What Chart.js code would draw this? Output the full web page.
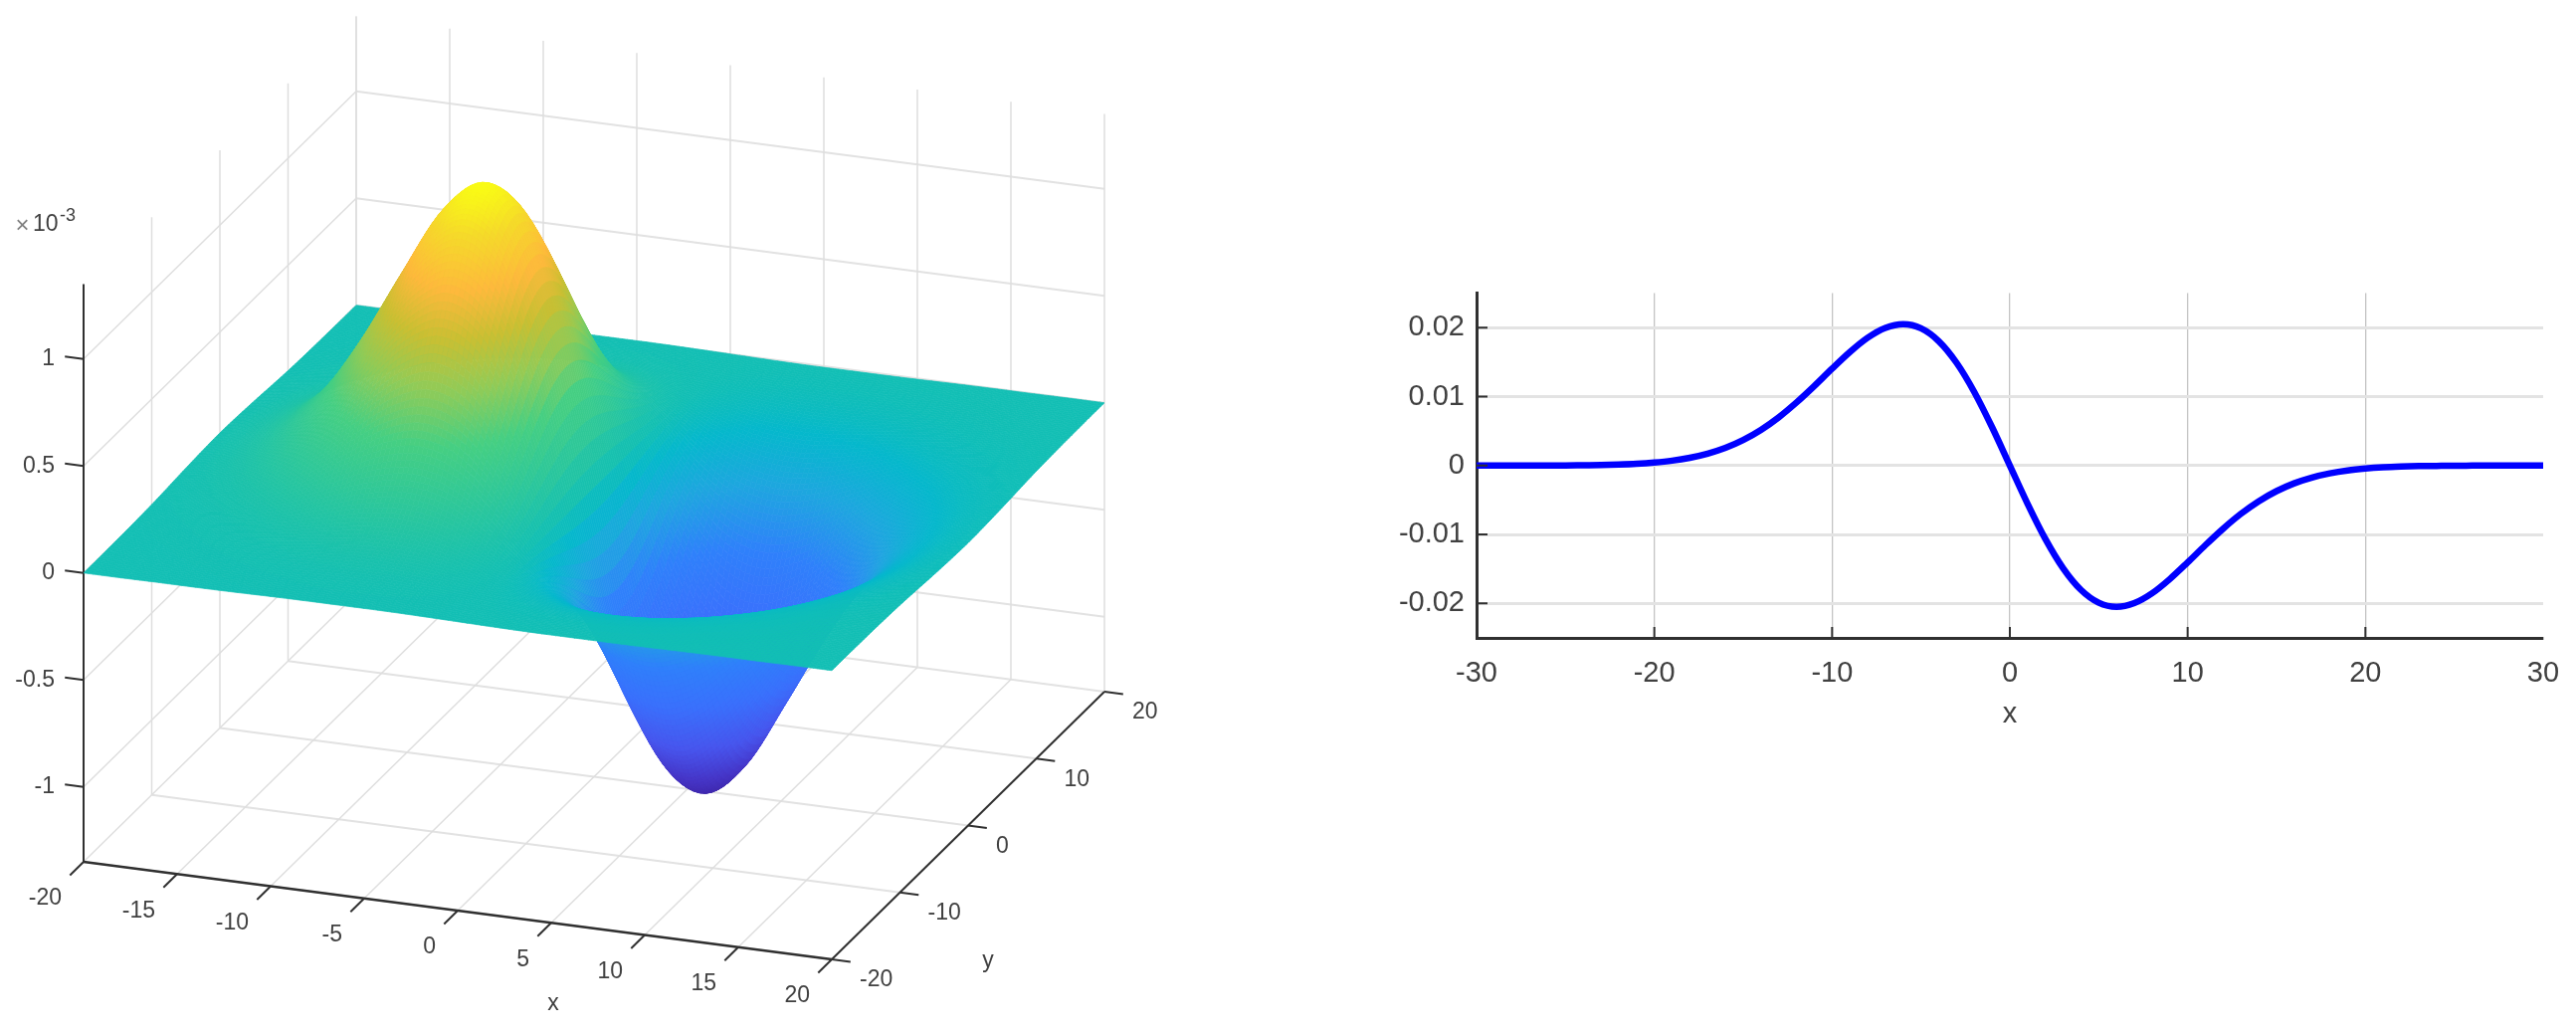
<!DOCTYPE html>
<html><head><meta charset="utf-8">
<style>html,body{margin:0;padding:0;background:#fff;overflow:hidden}canvas{position:absolute;display:block}</style>
<script src="https://cdn.jsdelivr.net/npm/chart.js@4"></script></head>
<body>
<canvas id="surf" width="1300" height="1040" style="left:0;top:0"></canvas>
<canvas id="prof" width="1209" height="480" style="left:1380px;top:270px"></canvas>
<script>
// ---- Left panel: values (z in units of 1e-3) ----
const surfXTicks = [-20,-15,-10,-5,0,5,10,15,20];
const surfYTicks = [-20,-10,0,10,20];
const surfZTicks = [-1,-0.5,0,0.5,1];
const gridX = [-20,-18,-16,-14,-12,-10,-8,-6,-4,-2,0,2,4,6,8,10,12,14,16,18,20];
const gridY = [20,18,16,14,12,10,8,6,4,2,0,-2,-4,-6,-8,-10,-12,-14,-16,-18,-20];
const surfaceZ = [
[0,0,.001,.001,.002,.004,.005,.005,.005,.003,0,-.003,-.005,-.005,-.005,-.004,-.002,-.001,-.001,0,0],
[0,.001,.002,.004,.007,.010,.014,.015,.013,.008,0,-.008,-.013,-.015,-.014,-.010,-.007,-.004,-.002,-.001,0],
[.001,.002,.005,.010,.017,.027,.035,.039,.034,.020,0,-.020,-.034,-.039,-.035,-.027,-.017,-.010,-.005,-.002,-.001],
[.002,.005,.011,.023,.040,.061,.081,.089,.079,.046,0,-.046,-.079,-.089,-.081,-.061,-.040,-.023,-.011,-.005,-.002],
[.004,.010,.023,.046,.082,.126,.166,.184,.162,.095,0,-.095,-.162,-.184,-.166,-.126,-.082,-.046,-.023,-.010,-.004],
[.007,.019,.043,.086,.151,.232,.306,.339,.298,.176,0,-.176,-.298,-.339,-.306,-.232,-.151,-.086,-.043,-.019,-.007],
[.012,.031,.070,.141,.249,.383,.505,.559,.492,.291,0,-.291,-.492,-.559,-.505,-.383,-.249,-.141,-.070,-.031,-.012],
[.018,.046,.104,.209,.368,.566,.746,.826,.727,.429,0,-.429,-.727,-.826,-.746,-.566,-.368,-.209,-.104,-.046,-.018],
[.023,.060,.137,.276,.486,.747,.974,1.078,.949,.566,0,-.566,-.949,-1.078,-.974,-.747,-.486,-.276,-.137,-.060,-.023],
[.027,.071,.162,.325,.574,.873,1.151,1.273,1.120,.669,0,-.669,-1.120,-1.273,-1.151,-.873,-.574,-.325,-.162,-.071,-.027],
[.029,.075,.171,.344,.607,.922,1.217,1.345,1.185,.707,0,-.707,-1.185,-1.345,-1.217,-.922,-.607,-.344,-.171,-.075,-.029],
[.027,.071,.162,.325,.574,.873,1.151,1.273,1.120,.669,0,-.669,-1.120,-1.273,-1.151,-.873,-.574,-.325,-.162,-.071,-.027],
[.023,.060,.137,.276,.486,.747,.974,1.078,.949,.566,0,-.566,-.949,-1.078,-.974,-.747,-.486,-.276,-.137,-.060,-.023],
[.018,.046,.104,.209,.368,.566,.746,.826,.727,.429,0,-.429,-.727,-.826,-.746,-.566,-.368,-.209,-.104,-.046,-.018],
[.012,.031,.070,.141,.249,.383,.505,.559,.492,.291,0,-.291,-.492,-.559,-.505,-.383,-.249,-.141,-.070,-.031,-.012],
[.007,.019,.043,.086,.151,.232,.306,.339,.298,.176,0,-.176,-.298,-.339,-.306,-.232,-.151,-.086,-.043,-.019,-.007],
[.004,.010,.023,.046,.082,.126,.166,.184,.162,.095,0,-.095,-.162,-.184,-.166,-.126,-.082,-.046,-.023,-.010,-.004],
[.002,.005,.011,.023,.040,.061,.081,.089,.079,.046,0,-.046,-.079,-.089,-.081,-.061,-.040,-.023,-.011,-.005,-.002],
[.001,.002,.005,.010,.017,.027,.035,.039,.034,.020,0,-.020,-.034,-.039,-.035,-.027,-.017,-.010,-.005,-.002,-.001],
[0,.001,.002,.004,.007,.010,.014,.015,.013,.008,0,-.008,-.013,-.015,-.014,-.010,-.007,-.004,-.002,-.001,0],
[0,0,.001,.001,.002,.004,.005,.005,.005,.003,0,-.003,-.005,-.005,-.005,-.004,-.002,-.001,-.001,0,0]
];
// colour ramp (z value, colour) read from the surface
const rampZ = [-1.345,-1.2,-1.0,-0.75,-0.5,-0.27,-0.1,0,0.2,0.42,0.62,0.82,1.0,1.2,1.345];
const rampColors = ['#3e26a8','#4636c8','#4756ee','#3a70fc','#2f80fb','#1ea6df','#05b8cc','#12bfb4','#2cc79b','#46cf82','#8fcb58','#cabf32','#feb93c','#f5da2a','#f9fb15'];

// ---- Right panel ----
const profileX = [-30,-29,-28,-27,-26,-25,-24,-23,-22,-21,-20,-19,-18,-17,-16,-15,-14,-13,-12,-11,-10,-9,-8,-7,-6,-5,-4,-3,-2,-1,0,1,2,3,4,5,6,7,8,9,10,11,12,13,14,15,16,17,18,19,20,21,22,23,24,25,26,27,28,29,30];
const profileY = [0,0,0,0,.00001,.00002,.00005,.00008,.00015,.00026,.00044,.00071,.00113,.00173,.00257,.00371,.00518,.007,.00915,.01154,.01405,.01646,.01853,.01996,.0205,.0199,.01804,.01491,.01066,.00556,0,-.00556,-.01066,-.01491,-.01804,-.0199,-.0205,-.01996,-.01853,-.01646,-.01405,-.01154,-.00915,-.007,-.00518,-.00371,-.00257,-.00173,-.00113,-.00071,-.00044,-.00026,-.00015,-.00008,-.00005,-.00002,-.00001,0,0,0,0];
const profXTicks = [-30,-20,-10,0,10,20,30];
const profYTicks = [-0.02,-0.01,0,0.01,0.02];

const FONT = '"Liberation Sans"';
const TEXT = '#404040';
const AXIS = '#303030';

// oblique axes of the left panel
const zBot = -1.35, zTop = 1.35, xyMin = -20;
function proj(x,y,z){
  const a=(x-xyMin)/40, b=(y-xyMin)/40;
  return {x:84+a*752+b*274, y:866+a*98-b*269-(z-zBot)*215};
}
function seg(p,q,color,width,order){
  return {type:'scatter',data:[proj(...p),proj(...q)],showLine:true,pointRadius:0,borderColor:color,borderWidth:width,tension:0,order:order||0};
}
const ds=[];
const G1='#dedede', G2='#e2e2e2';
surfXTicks.forEach(x=>{ ds.push(seg([x,-20,zBot],[x,20,zBot],G1,1.5)); ds.push(seg([x,20,zBot],[x,20,zTop],G1,1.5)); });
surfYTicks.forEach(y=>{ ds.push(seg([-20,y,zBot],[20,y,zBot],G2,2.2)); if(y>-20) ds.push(seg([-20,y,zBot],[-20,y,zTop],G1,1.5)); });
surfZTicks.forEach(z=>{ ds.push(seg([-20,20,z],[20,20,z],G2,2.2)); ds.push(seg([-20,-20,z],[-20,20,z],G1,1.5)); });
ds.push(seg([-20,-20,zBot],[-20,-20,zTop],AXIS,2,-1));
ds.push(seg([-20,-20,zBot],[20,-20,zBot],AXIS,2.4,-1));
ds.push(seg([20,-20,zBot],[20,20,zBot],AXIS,2,-1));
surfXTicks.forEach(x=>ds.push(seg([x,-20,zBot],[x,-22,zBot],AXIS,2,-1)));
surfYTicks.forEach(y=>ds.push(seg([20,y,zBot],[21,y,zBot],AXIS,2,-1)));
surfZTicks.forEach(z=>ds.push(seg([-20,-20,z],[-21,-20,z],AXIS,2,-1)));
// surface vertices as a dataset (the patches are painted by the plugin below)
const surfaceDataset={type:'scatter',label:'surface',pointRadius:0,showLine:false,
  data:gridY.flatMap((y,j)=>gridX.map((x,i)=>proj(x,y,surfaceZ[j][i])))};
ds.push(surfaceDataset);

function hexRgb(h){return [1,3,5].map(i=>parseInt(h.substr(i,2),16));}
const rampRgb=rampColors.map(hexRgb);
function colorOf(z){
  let k=0; while(k<rampZ.length-2 && z>rampZ[k+1]) k++;
  let t=(z-rampZ[k])/(rampZ[k+1]-rampZ[k]); t=Math.max(0,Math.min(1,t));
  const a=rampRgb[k],b=rampRgb[k+1];
  return `rgb(${a.map((v,i)=>Math.round(v+(b[i]-v)*t)).join(',')})`;
}
function cr(p0,p1,p2,p3,t){return 0.5*(2*p1+(p2-p0)*t+(2*p0-5*p1+4*p2-p3)*t*t+(3*p1-p0-3*p2+p3)*t*t*t);}
function zAt(j,i,t,s){
  const n=gridY.length-1,m=gridX.length-1,c=(v,h)=>Math.max(0,Math.min(h,v));
  const rows=[-1,0,1,2].map(d=>{const r=surfaceZ[c(j+d,n)];return cr(r[c(i-1,m)],r[i],r[c(i+1,m)],r[c(i+2,m)],s);});
  return cr(rows[0],rows[1],rows[2],rows[3],t);
}
const surfacePlugin={id:'surface',afterDatasetsDraw(chart){
  const c=chart.ctx,sx=chart.scales.x,sy=chart.scales.y,N=8;
  c.save(); c.lineWidth=0.7; c.lineJoin='round';
  const px=(x,y,z)=>{const p=proj(x,y,z);return [sx.getPixelForValue(p.x),sy.getPixelForValue(p.y)];};
  for(let j=0;j<gridY.length-1;j++) for(let tj=0;tj<N;tj++)
  for(let i=0;i<gridX.length-1;i++) for(let ti=0;ti<N;ti++){
    const t0=tj/N,t1=(tj+1)/N,s0=ti/N,s1=(ti+1)/N;
    const X=s=>gridX[i]+(gridX[i+1]-gridX[i])*s, Y=t=>gridY[j]+(gridY[j+1]-gridY[j])*t;
    const a=px(X(s0),Y(t0),zAt(j,i,t0,s0)),b=px(X(s1),Y(t0),zAt(j,i,t0,s1)),
          d=px(X(s1),Y(t1),zAt(j,i,t1,s1)),e=px(X(s0),Y(t1),zAt(j,i,t1,s0));
    const col=colorOf(zAt(j,i,(t0+t1)/2,(s0+s1)/2));
    c.fillStyle=col;c.strokeStyle=col;
    c.beginPath();c.moveTo(a[0],a[1]);c.lineTo(b[0],b[1]);c.lineTo(d[0],d[1]);c.lineTo(e[0],e[1]);c.closePath();c.fill();c.stroke();
  }
  c.restore();
}};
const labelPlugin={id:'labels3d',afterDraw(chart){
  const c=chart.ctx,sx=chart.scales.x,sy=chart.scales.y;
  const at=p=>[sx.getPixelForValue(p.x),sy.getPixelForValue(p.y)];
  c.save(); c.fillStyle=TEXT; c.font=`23px ${FONT}`; c.textBaseline='middle';
  c.textAlign='right';
  surfXTicks.forEach(x=>{const [u,v]=at(proj(x,-20,zBot));c.fillText(String(x),u-22,v+37);});
  c.textAlign='left';
  surfYTicks.forEach(y=>{const [u,v]=at(proj(20,y,zBot));c.fillText(String(y),u+28,v+21);});
  c.textAlign='right';
  surfZTicks.forEach(z=>{const [u,v]=at(proj(-20,-20,z));c.fillText(String(z),u-29,v);});
  c.textAlign='center';
  c.fillText('x',556,1009); c.fillText('y',993,966);
  c.textAlign='left';
  c.font=`24px ${FONT}`; c.fillStyle='#808080'; c.fillText('×',15.5,227);
  c.fillStyle=TEXT; c.font=`23px ${FONT}`; c.fillText('10',33,226);
  c.font=`18px ${FONT}`; c.fillText('-3',60,217);
  c.restore();
}};
new Chart(document.getElementById('surf'),{
  type:'scatter',
  data:{datasets:ds},
  plugins:[surfacePlugin,labelPlugin],
  options:{responsive:false,animation:false,events:[],layout:{padding:0},
    plugins:{legend:{display:false},tooltip:{enabled:false}},
    scales:{x:{type:'linear',display:false,min:0,max:1300},y:{type:'linear',display:false,min:0,max:1040,reverse:true}}}
});

const innerTicks={id:'innerTicks',afterDatasetsDraw(chart){
  const c=chart.ctx,sx=chart.scales.x,sy=chart.scales.y,L=11;
  c.save();c.strokeStyle=AXIS;c.lineWidth=2;c.beginPath();
  profXTicks.filter(v=>Math.abs(v)<30).forEach(v=>{const p=sx.getPixelForValue(v);c.moveTo(p,chart.chartArea.bottom);c.lineTo(p,chart.chartArea.bottom-L);});
  profYTicks.forEach(v=>{const p=sy.getPixelForValue(v);c.moveTo(chart.chartArea.left,p);c.lineTo(chart.chartArea.left+L,p);});
  c.stroke();c.restore();
}};
new Chart(document.getElementById('prof'),{
  type:'line',
  data:{labels:profileX,datasets:[{data:profileX.map((x,i)=>({x,y:profileY[i]})),borderColor:'#0000ff',borderWidth:6.5,pointRadius:0,cubicInterpolationMode:'monotone',clip:false}]},
  plugins:[innerTicks],
  options:{responsive:false,animation:false,events:[],
    layout:{padding:{left:0,right:33,top:24.6,bottom:0}},
    plugins:{legend:{display:false},tooltip:{enabled:false}},
    scales:{
      x:{type:'linear',min:-30,max:30,
        afterBuildTicks:s=>{s.ticks=profXTicks.map(v=>({value:v}));},
        afterFit:s=>{s.height=109;s.paddingLeft=0;s.paddingRight=0;},
        grid:{color:c=>c.tick&&c.tick.value===30?'rgba(0,0,0,0)':'#c4c4c4',lineWidth:1.3,drawTicks:false},
        border:{display:true,color:AXIS,width:3},
        ticks:{autoSkip:false,maxRotation:0,padding:19,color:TEXT,font:{family:FONT,size:29},callback:v=>String(v)},
        title:{display:true,text:'x',color:TEXT,font:{family:FONT,size:29},padding:{top:0,bottom:15}}},
      y:{type:'linear',min:-0.025,max:0.025,
        afterBuildTicks:s=>{s.ticks=profYTicks.map(v=>({value:v}));},
        afterFit:s=>{s.width=104;s.paddingTop=0;s.paddingBottom=0;},
        grid:{color:'#e3e3e3',lineWidth:3,drawTicks:false},
        border:{display:true,color:AXIS,width:3},
        ticks:{autoSkip:false,padding:12,color:TEXT,font:{family:FONT,size:29},callback:v=>String(v)}}
    }}
});
</script>
</body></html>
